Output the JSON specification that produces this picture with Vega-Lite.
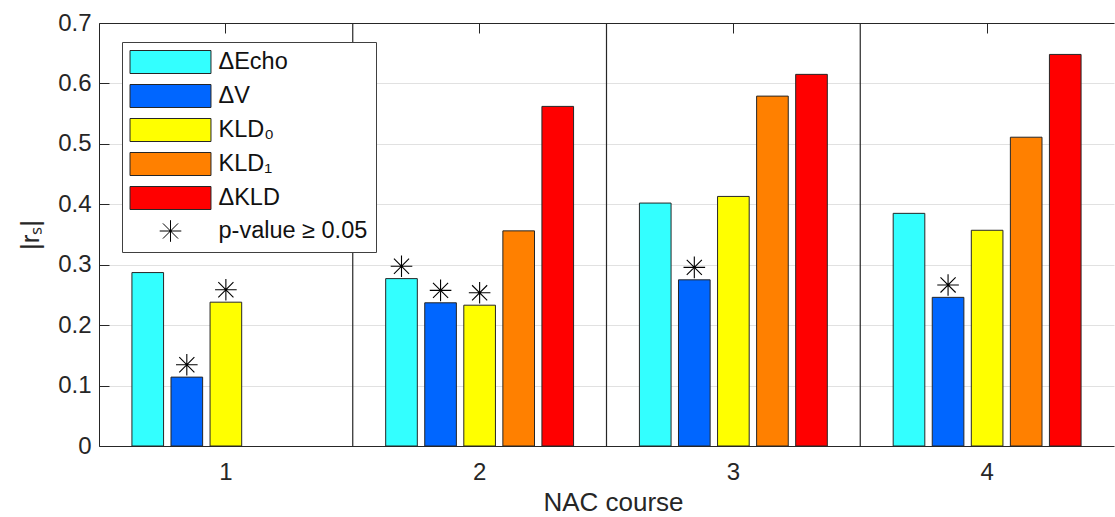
{
  "$schema": "https://vega.github.io/schema/vega-lite/v6.json",
  "autosize": {"type": "none"},
  "width": 1015,
  "height": 423,
  "padding": {"left": 99, "top": 23, "right": 1, "bottom": 71},
  "background": "white",
  "config": {
    "font": "Liberation Sans",
    "view": {"stroke": null},
    "axis": {
      "labelColor": "#262626",
      "titleColor": "#262626",
      "domainColor": "#262626",
      "tickColor": "#262626",
      "domainWidth": 1,
      "tickWidth": 1,
      "labelFont": "Liberation Sans",
      "titleFont": "Liberation Sans",
      "titleFontWeight": "normal",
      "labelFontSize": 24,
      "titleFontSize": 26
    }
  },
  "resolve": {"axis": {"x": "independent", "y": "independent"}},
  "datasets": {
    "scores": [
      {"course": "1", "series": "ΔEcho", "value": 0.287, "ns": false},
      {"course": "1", "series": "ΔV", "value": 0.114, "ns": true},
      {"course": "1", "series": "KLD₀", "value": 0.238, "ns": true},
      {"course": "2", "series": "ΔEcho", "value": 0.277, "ns": true},
      {"course": "2", "series": "ΔV", "value": 0.237, "ns": true},
      {"course": "2", "series": "KLD₀", "value": 0.233, "ns": true},
      {"course": "2", "series": "KLD₁", "value": 0.356, "ns": false},
      {"course": "2", "series": "ΔKLD", "value": 0.562, "ns": false},
      {"course": "3", "series": "ΔEcho", "value": 0.402, "ns": false},
      {"course": "3", "series": "ΔV", "value": 0.275, "ns": true},
      {"course": "3", "series": "KLD₀", "value": 0.413, "ns": false},
      {"course": "3", "series": "KLD₁", "value": 0.579, "ns": false},
      {"course": "3", "series": "ΔKLD", "value": 0.615, "ns": false},
      {"course": "4", "series": "ΔEcho", "value": 0.385, "ns": false},
      {"course": "4", "series": "ΔV", "value": 0.246, "ns": true},
      {"course": "4", "series": "KLD₀", "value": 0.357, "ns": false},
      {"course": "4", "series": "KLD₁", "value": 0.511, "ns": false},
      {"course": "4", "series": "ΔKLD", "value": 0.648, "ns": false}
    ],
    "boundaries": [{"course": "2"}, {"course": "3"}, {"course": "4"}]
  },
  "layer": [
    {
      "data": {"name": "scores"},
      "mark": {"type": "bar", "stroke": "#262626", "strokeWidth": 1},
      "encoding": {
        "x": {
          "field": "course",
          "type": "nominal",
          "scale": {"domain": ["1", "2", "3", "4"], "paddingInner": 0, "paddingOuter": -0.026, "align": 0},
          "axis": {
            "orient": "bottom",
            "title": "NAC course",
            "labelAngle": 0,
            "ticks": false,
            "grid": false,
            "domain": true,
            "labelPadding": 14,
            "titlePadding": 5,
            "titleX": 514
          }
        },
        "xOffset": {
          "field": "series",
          "type": "nominal",
          "scale": {"domain": ["ΔEcho", "ΔV", "KLD₀", "KLD₁", "ΔKLD"], "paddingInner": 0.19, "paddingOuter": 0.843}
        },
        "y": {
          "field": "value",
          "type": "quantitative",
          "scale": {"domain": [0, 0.7], "nice": false},
          "axis": {
            "orient": "left",
            "title": "|rₛ|",
            "values": [0, 0.1, 0.2, 0.3, 0.4, 0.5, 0.6, 0.7],
            "format": ".1~f",
            "grid": true,
            "gridColor": "#e1e1e1",
            "ticks": false,
            "domain": true,
            "labelPadding": 8,
            "titlePadding": 14
          }
        },
        "color": {
          "field": "series",
          "type": "nominal",
          "scale": {
            "domain": ["ΔEcho", "ΔV", "KLD₀", "KLD₁", "ΔKLD", "p-value ≥ 0.05"],
            "range": ["#33ffff", "#0066ff", "#ffff00", "#ff8000", "#ff0000", "#000000"]
          },
          "legend": {
            "orient": "none",
            "legendX": 23,
            "legendY": 19,
            "title": null,
            "strokeColor": "#404040",
            "fillColor": "white",
            "padding": 8,
            "rowPadding": 6,
            "symbolSize": 529,
            "symbolType": "M-3.52,-1L3.52,-1L3.52,1L-3.52,1Z",
            "symbolStrokeColor": "#262626",
            "symbolStrokeWidth": 1,
            "symbolOpacity": 1,
            "symbolOffset": 28.5,
            "labelOffset": 36,
            "labelFontSize": 23.5,
            "labelFont": "Liberation Sans",
            "labelColor": "#111111",
            "labelLimit": 400,
            "encode": {
              "symbols": {
                "update": {
                  "shape": {"signal": "datum.value === 'p-value ≥ 0.05' ? 'M-0.94,0L0.94,0M0,-0.94L0,0.94M-0.66,-0.66L0.66,0.66M-0.66,0.66L0.66,-0.66M-0.08,0A0.08,0.08 0 1,1 0.08,0A0.08,0.08 0 1,1 -0.08,0' : 'M-3.52,-1L3.52,-1L3.52,1L-3.52,1Z'"},
                  "fill": {"signal": "datum.value === 'p-value ≥ 0.05' ? 'transparent' : scale('color', datum.value)"},
                  "stroke": {"signal": "datum.value === 'p-value ≥ 0.05' ? '#000000' : '#262626'"}
                }
              }
            }
          }
        }
      }
    },
    {
      "data": {"name": "scores"},
      "transform": [{"filter": "datum.ns"}],
      "mark": {
        "type": "point",
        "shape": "M-1,0L1,0M0,-1L0,1M-0.7,-0.7L0.7,0.7M-0.7,0.7L0.7,-0.7M-0.09,0A0.09,0.09 0 1,1 0.09,0A0.09,0.09 0 1,1 -0.09,0",
        "size": 467,
        "filled": false,
        "stroke": "#000000",
        "strokeWidth": 1.1,
        "opacity": 1,
        "yOffset": -12.4
      },
      "encoding": {
        "x": {
          "field": "course",
          "type": "nominal",
          "scale": {"domain": ["1", "2", "3", "4"], "paddingInner": 0, "paddingOuter": -0.026, "align": 0},
          "axis": null
        },
        "xOffset": {
          "field": "series",
          "type": "nominal",
          "scale": {"domain": ["ΔEcho", "ΔV", "KLD₀", "KLD₁", "ΔKLD"], "paddingInner": 0.19, "paddingOuter": 0.843}
        },
        "y": {
          "field": "value",
          "type": "quantitative",
          "scale": {"domain": [0, 0.7], "nice": false},
          "axis": {
            "orient": "right",
            "offset": -1015,
            "values": [0, 0.1, 0.2, 0.3, 0.4, 0.5, 0.6, 0.7],
            "labels": false,
            "domain": false,
            "grid": false,
            "ticks": true,
            "tickSize": 10,
            "title": null
          }
        }
      }
    },
    {
      "data": {"name": "boundaries"},
      "mark": {"type": "rule", "color": "#262626", "strokeWidth": 1.2},
      "encoding": {
        "x": {
          "field": "course",
          "type": "nominal",
          "bandPosition": 0,
          "scale": {"domain": ["1", "2", "3", "4"], "paddingInner": 0, "paddingOuter": -0.026, "align": 0},
          "axis": {
            "orient": "bottom",
            "offset": -423,
            "labels": false,
            "title": null,
            "grid": false,
            "ticks": true,
            "tickSize": 10,
            "domain": true
          }
        }
      }
    }
  ]
}
